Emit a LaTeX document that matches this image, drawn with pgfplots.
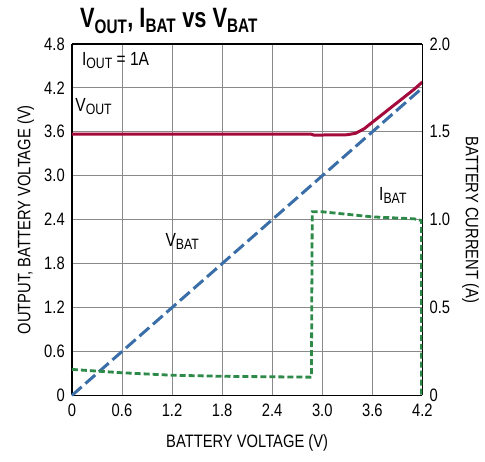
\documentclass[border=0pt]{standalone}
\usepackage{pgfplots}
\pgfplotsset{compat=1.18}
\usepackage{fontspec}
\setmainfont{Liberation Sans}[FakeStretch=0.82]
\newfontfamily\titlefont{Liberation Sans}[FakeStretch=0.78]
\definecolor{vout}{HTML}{A50A3C}
\definecolor{vbat}{HTML}{3A6EA8}
\definecolor{ibat}{HTML}{2E8A48}
\definecolor{gridc}{HTML}{8A8A8A}
\newcommand\sub[1]{\raisebox{-0.3ex}{\fontsize{15}{15}\selectfont #1}}
\begin{document}
\fontsize{18}{21}\selectfont
\begin{tikzpicture}
\pgfplotsset{
  every axis/.append style={
    scale only axis, width=351pt, height=352pt,
    xmin=0, xmax=4.2,
    /pgf/number format/assume math mode=true,
    tick label style={font=\fontsize{18}{21}\selectfont},
    label style={font=\fontsize{18}{21}\selectfont},
    major tick length=0pt,
    axis line style={line width=1.8pt},
  }
}
\begin{axis}[
  name=main,
  ymin=0, ymax=4.8,
  xtick={0,0.6,...,4.21},
  xticklabels={0,0.6,1.2,1.8,2.4,3.0,3.6,4.2},
  ytick={0,0.6,1.2,1.8,2.4,3.0,3.6,4.2,4.8},
  yticklabels={0,0.6,1.2,1.8,2.4,3.0,3.6,4.2,4.8},
  grid=major,
  grid style={gridc, line width=0.9pt},
  axis y line*=left,
  axis x line*=box,
  xlabel={BATTERY VOLTAGE (V)},
  ylabel={OUTPUT, BATTERY VOLTAGE (V)},
  xticklabel style={yshift=-2pt},
  yticklabel style={xshift=-1pt},
  xlabel style={yshift=-6pt},
  ylabel style={yshift=-2pt},
  clip=false,
]
\addplot[vbat, line width=3pt, dash pattern=on 13pt off 5pt] coordinates {(0,0) (4.2,4.2)};
\addplot[vout, line width=3pt] coordinates {
(0,3.57) (2.86,3.57) (2.9,3.555) (3.3,3.56) (3.4,3.58) (3.5,3.64) (3.6,3.73) (3.7,3.82) (3.8,3.91) (3.9,4.0) (4.0,4.09) (4.1,4.18) (4.2,4.28)};
\node[anchor=base west, inner sep=0pt, font=\fontsize{19}{22}\selectfont] at (axis cs:0.12,4.5) {I\sub{OUT} = 1A};
\node[anchor=base west, inner sep=0pt, font=\fontsize{19}{22}\selectfont] at (axis cs:0.04,3.88) {V\sub{OUT}};
\node[anchor=base west, inner sep=0pt, font=\fontsize{19}{22}\selectfont] at (axis cs:1.12,2.04) {V\sub{BAT}};
\node[anchor=base west, inner sep=0pt, font=\fontsize{19}{22}\selectfont] at (axis cs:3.68,2.66) {I\sub{BAT}};
\node[anchor=base west, inner sep=0pt, font=\titlefont\fontsize{28}{30}\selectfont\bfseries] at ([shift={(8pt,16pt)}]rel axis cs:0,1) {V\textsubscript{OUT}, I\textsubscript{BAT} vs V\textsubscript{BAT}};
\end{axis}
\begin{axis}[
  ymin=0, ymax=2.0,
  axis y line*=right,
  axis x line=none,
  ytick={0,0.5,1.0,1.5,2.0},
  yticklabels={0,0.5,1.0,1.5,2.0},
  ylabel={BATTERY CURRENT (A)},
  ylabel style={rotate=180, yshift=0pt},
  yticklabel style={xshift=1pt},
]
\addplot[ibat, line width=2.8pt, dash pattern=on 6pt off 3pt] coordinates {
(0,0.148) (0.6,0.129) (1.2,0.115) (1.8,0.109) (2.4,0.106) (2.87,0.104) (2.88,1.045) (3.0,1.045) (3.6,1.016) (4.1,1.005) (4.19,0.995) (4.19,0)};
\end{axis}
\path ([shift={(-72pt,-66pt)}]main.south west) rectangle ([shift={(62pt,44pt)}]main.north east);
\end{tikzpicture}
\end{document}
